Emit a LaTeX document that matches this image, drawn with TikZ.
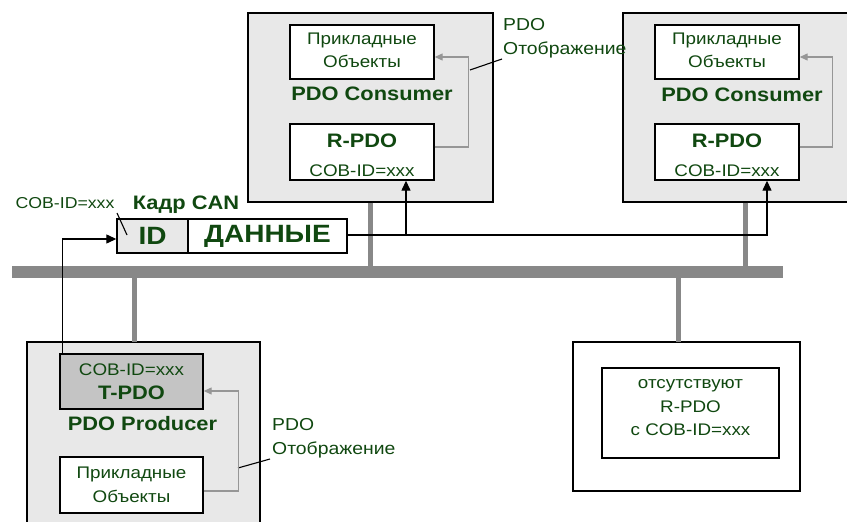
\documentclass[tikz,border=0pt]{standalone}
\usepackage{fontspec}
\setmainfont{Liberation Sans}[FakeStretch=1.12]
\usetikzlibrary{arrows.meta}
\definecolor{txtgreen}{RGB}{16,72,16}
\definecolor{boxgray}{RGB}{232,232,232}
\definecolor{tgray}{RGB}{196,196,196}
\definecolor{busgray}{RGB}{136,136,136}
\definecolor{mapgray}{RGB}{150,150,150}
\newcommand\fsm{\fontsize{16.8}{23.5}\selectfont}
\newcommand\fcob{\fontsize{15.8}{20}\selectfont}
\newcommand\fbd{\bfseries\fontsize{19.5}{23}\selectfont}
\newcommand\fbig{\bfseries\fontsize{25}{28}\selectfont}
\newcommand\flab{\fontsize{17.3}{24.5}\selectfont}
\begin{document}
\begin{tikzpicture}[x=1pt,y=-1pt,
  dev/.style={draw=black, line width=1.4pt, fill=boxgray, inner sep=0pt},
  plain/.style={draw=black, line width=1.4pt, fill=white, inner sep=0pt},
  inbox/.style={draw=black, line width=1.4pt, fill=white, inner sep=0pt,
    minimum width=144pt, align=center, text=txtgreen, font=\fsm},
  txt/.style={align=center, text=txtgreen, font=\fsm, inner sep=0pt},
  title/.style={text=txtgreen, font=\fbd, inner sep=0pt},
  lab/.style={text=txtgreen, font=\flab, inner sep=0pt, align=left, anchor=north west},
  stub/.style={draw=busgray, line width=5pt},
  sig/.style={draw=black, line width=1.3pt, -{Triangle[length=10pt,width=9pt]}},
  mapar/.style={draw=mapgray, line width=1.3pt, -{Triangle[length=8pt,width=7pt]}},
  lead/.style={draw=black, line width=1.1pt}]
\useasboundingbox (0,0) rectangle (847,522);
% bus
\node[fill=busgray, inner sep=0pt, minimum width=771pt, minimum height=12pt] (bus) at (397.5,272) {};
% devices
\node[dev, minimum width=245pt, minimum height=189pt] (c1) at (370.5,107.5) {};
\node[dev, minimum width=245pt, minimum height=189pt] (c2) at (745.5,107.5) {};
\node[dev, minimum width=233pt, minimum height=194pt] (p) at (143.5,439) {};
\node[plain, minimum width=227pt, minimum height=149pt] (r) at (686.5,416.5) {};
% stubs
\coordinate (ps) at (134,342);
\coordinate (rs) at (678,342);
\draw[stub] (c1.south) -- (c1.south |- bus.north);
\draw[stub] (c2.south) -- (c2.south |- bus.north);
\draw[stub] (ps) -- (ps |- bus.south);
\draw[stub] (rs) -- (rs |- bus.south);
% consumer 1
\node[inbox, minimum height=54pt] (app1) at (362,52) {};
\node[txt] (app1t) at (362,50.5) {Прикладные\\Объекты};
\node[inbox, minimum height=56pt] (rpdo1) at (362,152) {};
\node[txt] (rpdo1t) at (362,155.5) {{\fbd R-PDO}\\[5.5pt]COB-ID=xxx};
\node[title] (t1) at (372,94) {PDO Consumer};
% consumer 2
\node[inbox, minimum height=54pt] (app2) at (727,52) {};
\node[txt] (app2t) at (727,50.5) {Прикладные\\Объекты};
\node[inbox, minimum height=56pt] (rpdo2) at (727,152) {};
\node[txt] (rpdo2t) at (727,155.5) {{\fbd R-PDO}\\[5.5pt]COB-ID=xxx};
\node[title] (t2) at (742,95) {PDO Consumer};
% producer
\node[inbox, minimum width=143pt, minimum height=55pt, fill=tgray] (tpdo) at (131.5,381.5) {COB-ID=xxx\\[1pt]{\fbd T-PDO}};
\node[inbox, minimum width=143pt, minimum height=56pt] (app3) at (131.5,485) {Прикладные\\Объекты};
\node[title] (t3) at (142.5,424) {PDO Producer};
% no R-PDO
\node[inbox, minimum width=177pt, minimum height=90pt] (rin) at (690.5,413) {};
\node[txt] (rint) at (690.5,408) {отсутствуют\\R-PDO\\с COB-ID=xxx};
% CAN frame
\node[plain, fill=boxgray, minimum width=71pt, minimum height=34pt, text=txtgreen, font=\fbig] (id) at (152.5,236) {ID};
\node[plain, minimum width=159pt, minimum height=34pt, text=txtgreen, font=\fbig] (data) at (267.5,236) {ДАННЫЕ};
\node[title] (kadr) at (186,205) {Кадр CAN};
\node[text=txtgreen, font=\fcob, inner sep=0pt] (cob) at (65,203) {COB-ID=xxx};
\coordinate (cobA) at (117,213);
\coordinate (cobB) at (127,235);
\draw[lead] (cobA) -- (cobB);
% mapping labels
\node[lab] (m1) at (503,18) {PDO\\Отображение};
\node[lab] (m3) at (272,418) {PDO\\Отображение};
\coordinate (l1a) at (470,70);
\coordinate (l1b) at (502,59);
\draw[lead] (l1a) -- (l1b);
\coordinate (l3a) at (238,468);
\coordinate (l3b) at (270,459);
\draw[lead] (l3a) -- (l3b);
% mapping arrows
\draw[mapar] ([yshift=5pt]rpdo1.east) -- ++(34,0) |- ([yshift=-5pt]app1.east);
\draw[mapar] ([yshift=5pt]rpdo2.east) -- ++(33,0) |- ([yshift=-5pt]app2.east);
\draw[mapar] ([yshift=-6pt]app3.east) -- ++(35,0) |- ([yshift=-9.5pt]tpdo.east);
% signal arrows
\draw[sig] ([xshift=3pt]tpdo.north west) |- ([yshift=-3pt]id.west);
\draw[sig] ([yshift=1pt]data.east) -| ([xshift=44pt]rpdo1.south);
\draw[sig] ([yshift=1pt]data.east) -| ([xshift=40pt]rpdo2.south);
\end{tikzpicture}
\end{document}
